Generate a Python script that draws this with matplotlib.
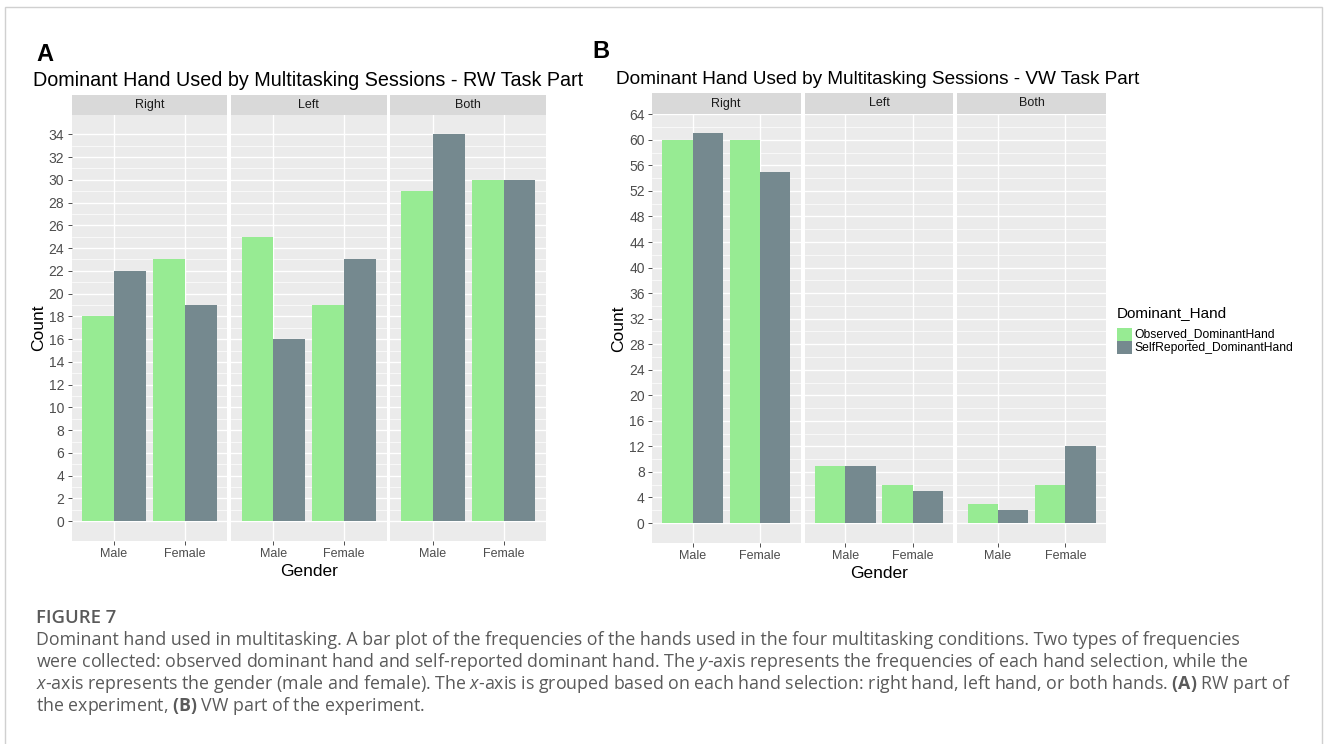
import matplotlib
matplotlib.use("Agg")
import matplotlib.pyplot as plt
from matplotlib.patches import Rectangle
import numpy as np

# ---------------- data ----------------
hands = ["Right", "Left", "Both"]
genders = ["Male", "Female"]
series = ["Observed_DominantHand", "SelfReported_DominantHand"]

# counts per hand facet, [Male, Female]
rw_observed = [[18, 23], [25, 19], [29, 30]]
rw_selfreported = [[22, 19], [16, 23], [34, 30]]
vw_observed = [[60, 60], [9, 6], [3, 6]]
vw_selfreported = [[61, 55], [9, 5], [2, 12]]

rw_breaks = list(range(0, 35, 2))
vw_breaks = list(range(0, 65, 4))

title_rw = "Dominant Hand Used by Multitasking Sessions - RW Task Part"
title_vw = "Dominant Hand Used by Multitasking Sessions - VW Task Part"

caption_head = "FIGURE 7"
caption_lines = [
    "Dominant hand used in multitasking. A bar plot of the frequencies of the hands used in the four multitasking conditions. Two types of frequencies",
    r"were collected: observed dominant hand and self-reported dominant hand. The $\mathit{y}$-axis represents the frequencies of each hand selection, while the",
    r"$\mathit{x}$-axis represents the gender (male and female). The $\mathit{x}$-axis is grouped based on each hand selection: right hand, left hand, or both hands. $\mathbf{(A)}$ RW part of",
    r"the experiment, $\mathbf{(B)}$ VW part of the experiment.",
]

# ---------------- style ----------------
GREEN = "#97EB93"
SLATE = "#75898F"
PANEL_BG = "#EBEBEB"
STRIP_BG = "#D9D9D9"
TICK_COL = "#4D4D4D"

plt.rcParams["font.family"] = ["Liberation Sans", "DejaVu Sans"]
plt.rcParams["mathtext.fontset"] = "custom"
plt.rcParams["mathtext.rm"] = "Open Sans"
plt.rcParams["mathtext.it"] = "Open Sans:italic"
plt.rcParams["mathtext.bf"] = "Open Sans:bold"

W, H = 1328, 744
fig = plt.figure(figsize=(W / 100, H / 100), dpi=100)


def px_axes(x0, y0, x1, y1):
    return fig.add_axes([x0 / W, 1 - y1 / H, (x1 - x0) / W, (y1 - y0) / H])


def draw_facets(left, facet_w, gap, strip_top, strip_bot, panel_bot,
                observed, selfrep, breaks, top):
    ylim = (-0.05 * top, top * 1.05)
    axes = []
    for i, hand in enumerate(hands):
        x0 = left + i * (facet_w + gap)
        # strip
        sax = px_axes(x0, strip_top, x0 + facet_w, strip_bot)
        sax.set_facecolor(STRIP_BG)
        sax.set_xticks([])
        sax.set_yticks([])
        for s in sax.spines.values():
            s.set_visible(False)
        sax.text(0.5, 0.5, hand, ha="center", va="center", fontsize=9, color="#1A1A1A")

        ax = px_axes(x0, strip_bot, x0 + facet_w, panel_bot)
        ax.set_facecolor(PANEL_BG)
        for s in ax.spines.values():
            s.set_visible(False)
        xpos = np.arange(len(genders)) + 1
        bw = 0.45
        ax.bar(xpos - bw / 2, observed[i], width=bw, color=GREEN, zorder=3)
        ax.bar(xpos + bw / 2, selfrep[i], width=bw, color=SLATE, zorder=3)
        ax.set_xlim(0.4, 2.6)
        ax.set_ylim(*ylim)
        ax.set_xticks(xpos)
        ax.set_xticklabels(genders, fontsize=9, color=TICK_COL)
        ax.set_yticks(breaks)
        minor = [(a + b) / 2 for a, b in zip(breaks[:-1], breaks[1:])]
        ax.set_yticks(minor, minor=True)
        ax.grid(which="major", color="white", linewidth=1.0, zorder=0)
        ax.grid(which="minor", axis="y", color="white", linewidth=0.5, zorder=0)
        ax.set_axisbelow(True)
        ax.tick_params(axis="both", which="major", length=2.75, width=0.6,
                       color="#333333", pad=2.5)
        ax.tick_params(axis="y", which="minor", length=0)
        if i == 0:
            ax.set_yticklabels([str(b) for b in breaks], fontsize=10, color=TICK_COL)
            ax.set_ylabel("Count", fontsize=12.5, color="black", labelpad=2)
        else:
            ax.tick_params(axis="y", which="major", length=0, labelleft=False)
        if i == 1:
            ax.set_xlabel("Gender", fontsize=12.5, color="black", labelpad=3)
        axes.append(ax)
    return axes


# panel A (RW)
draw_facets(71.5, 155.8, 3.6, 95, 115, 540.5,
            rw_observed, rw_selfreported, rw_breaks, 34)
# panel B (VW)
draw_facets(652, 148.5, 4.2, 93, 114, 542.5,
            vw_observed, vw_selfreported, vw_breaks, 61)

# panel letters and titles
fig.text(36 / W, 1 - 61 / H, "A", fontsize=17, fontweight="bold", va="baseline")
fig.text(592 / W, 1 - 58 / H, "B", fontsize=17, fontweight="bold", va="baseline")
fig.text(33 / W, 1 - 86 / H, title_rw, fontsize=14.2, va="baseline")
fig.text(616 / W, 1 - 84 / H, title_vw, fontsize=13.7, va="baseline")

# legend (drawn by hand next to panel B)
fig.text(1117 / W, 1 - 317 / H, "Dominant_Hand", fontsize=11, va="baseline")
for k, (lab, col) in enumerate(zip(series, [GREEN, SLATE])):
    ytop = 328 + k * 13
    fig.patches.append(Rectangle((1117 / W, 1 - (ytop + 13) / H), 15 / W, 13 / H,
                                 transform=fig.transFigure, facecolor=col,
                                 edgecolor="none"))
    fig.text(1134 / W, 1 - (ytop + 6.5) / H, lab, fontsize=8.7, va="center")

# caption
fig.text(36 / W, 1 - 623 / H, caption_head, fontsize=13.3, family="Open Sans",
         fontweight="semibold", color="#5A5A5A", va="baseline")
for j, line in enumerate(caption_lines):
    fig.text(36 / W, 1 - (645 + 22 * j) / H, line, fontsize=12.8, family="Open Sans",
             color="#5A5A5A", va="baseline")

# thin frame around the figure
fig.patches.append(Rectangle((5 / W, -0.01), (1322 - 5) / W, 1 - 7 / H + 0.01,
                             transform=fig.transFigure, facecolor="none",
                             edgecolor="#D0D0D0", linewidth=1.0))

fig.savefig("out.png", dpi=100)
